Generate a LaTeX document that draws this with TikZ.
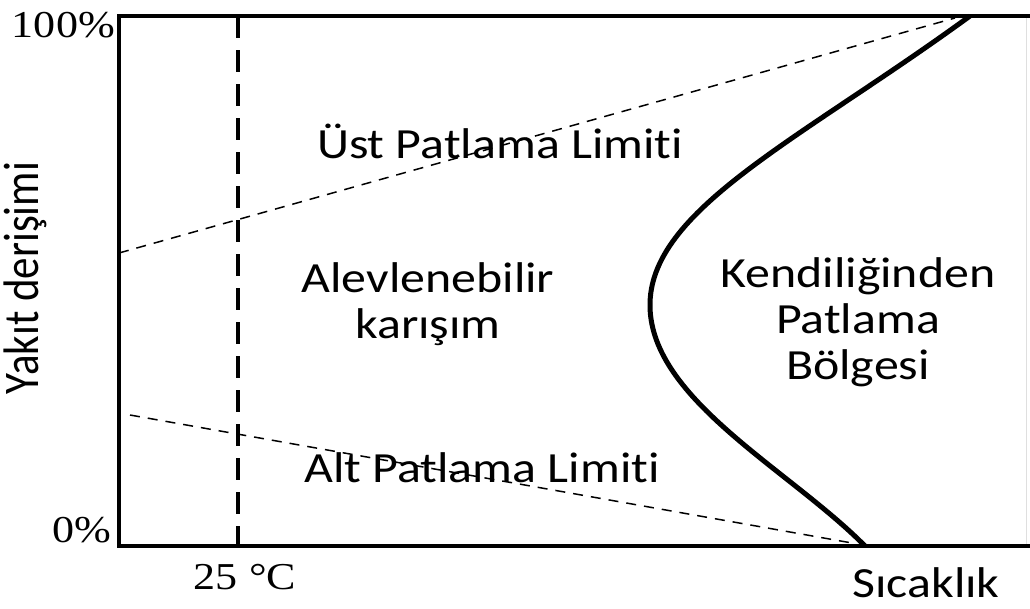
\documentclass[tikz,border=0pt]{standalone}
\usepackage{fontspec}
\setmainfont{Carlito}[Ligatures=NoCommon]
\newfontfamily\serifnum{Liberation Serif}
\usetikzlibrary{calc}
\tikzstyle{lbl}=[font=\fontsize{43}{46}\selectfont,inner sep=0pt,align=center,xscale=1.16]
\tikzstyle{tck}=[font=\serifnum\fontsize{38}{40}\selectfont,inner sep=0pt,xscale=1.16]
\tikzstyle{frm}=[line width=4.5pt]
\tikzstyle{lim}=[line width=1.5pt,dash pattern=on 10pt off 8pt]
\tikzstyle{tline}=[line width=4pt,dash pattern=on 22pt off 12pt]
\tikzstyle{ign}=[line width=5pt]

\begin{document}
\begin{tikzpicture}[x=1pt,y=-1pt]
  \useasboundingbox (0,0) rectangle (1030,608);
  % frame
  \coordinate (tl) at (119,16);
  \coordinate (o) at (119,546);
  \coordinate (tr) at (1030,16);
  \coordinate (br) at (1030,546);
  \draw [gray!25,line width=1pt] (1026,16) -- (1026,546);
  \draw [frm] (tr) -- (tl) -- (o) -- (br);
  % 25 C line
  \coordinate (t25a) at (238,16);
  \coordinate (t25b) at (238,546);
  \draw [tline] (t25a) -- (t25b);
  % limits
  \coordinate (ulA) at (119,253);
  \coordinate (ulB) at (955,18);
  \coordinate (llA) at (130,415);
  \coordinate (llB) at (852,543);
  \draw [lim] (ulA) -- (ulB);
  \draw [lim] (llA) -- (llB);
  % autoignition curve
  \coordinate (ignT) at (970,16);
  \coordinate (ignL) at (650,307);
  \coordinate (ignB) at (865,546);
  \draw [ign] (ignT) .. controls (800,140) and (648,210) .. (ignL)
                     .. controls (652,400) and (790,470) .. (ignB);
  % labels
  \node [lbl] (ust) at (500,141) {Üst Patlama Limiti};
  \node [lbl] (alev) at (428,304) {Alevlenebilir\\karışım};
  \node [lbl] (kend) at (858,322) {Kendiliğinden\\Patlama\\Bölgesi};
  \node [lbl] (alt) at (482,468) {Alt Patlama Limiti};
  \node [lbl,rotate=90] (yak) at (25,278) {Yakıt derişimi};
  \node [lbl] (sic) at (926,583) {Sıcaklık};
  \node [tck,anchor=east] (p100) at (115,25) {100\%};
  \node [tck,anchor=east] (p0) at (111,530) {0\%};
  \node [tck] (c25) at (245,577) {25 °C};
\end{tikzpicture}
\end{document}
